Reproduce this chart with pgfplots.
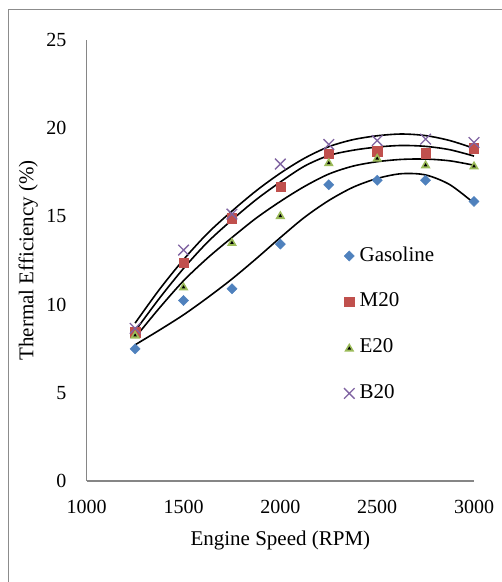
\documentclass[border=0pt]{standalone}
\usepackage{fontspec}
\setmainfont{Liberation Serif}
\usepackage{pgfplots}
\pgfplotsset{compat=1.18}
\definecolor{gasblue}{HTML}{4F81BD}
\definecolor{m20red}{HTML}{C0504D}
\definecolor{e20green}{HTML}{9BBB59}
\definecolor{b20purple}{HTML}{8064A2}
\definecolor{axisgray}{HTML}{868686}
\definecolor{framegray}{HTML}{8C8C8C}
\newcommand\fs{\fontsize{20bp}{24bp}\selectfont}
\newcommand\fl{\fontsize{21bp}{25bp}\selectfont}
\pgfdeclareplotmark{etri}{%
  \pgfsetfillcolor{e20green}%
  \pgfpathmoveto{\pgfqpoint{0bp}{4.6bp}}%
  \pgfpathlineto{\pgfqpoint{-5bp}{-4bp}}%
  \pgfpathlineto{\pgfqpoint{5bp}{-4bp}}%
  \pgfpathclose\pgfusepath{fill}%
  \pgfsetfillcolor{black}%
  \pgfpathmoveto{\pgfqpoint{0bp}{1.2bp}}%
  \pgfpathlineto{\pgfqpoint{-1.8bp}{-1.9bp}}%
  \pgfpathlineto{\pgfqpoint{1.8bp}{-1.9bp}}%
  \pgfpathclose\pgfusepath{fill}%
}
\begin{document}
\begin{tikzpicture}
\path[use as bounding box] (0bp,0bp) rectangle (502bp,582bp);
\draw[framegray, line width=1bp] (8bp,0bp) -- (8bp,572bp) -- (502bp,572bp);
\begin{axis}[
  at={(86.7bp,101bp)}, anchor=south west,
  scale only axis, width=387.3bp, height=441bp,
  xmin=1000, xmax=3000, ymin=0, ymax=25,
  xtick={1000,1500,2000,2500,3000}, ytick={0,5,10,15,20,25},
  axis x line*=bottom, axis y line*=left,
  axis line style={-, draw=axisgray, line width=1.2bp},
  major tick length=0pt,
  tick label style={font=\fs},
  xticklabel style={anchor=center, yshift=-26bp, inner sep=0pt},
  yticklabel style={anchor=east, xshift=-20bp, inner sep=0pt},
  /pgf/number format/assume math mode=true,
  /pgf/number format/1000 sep={},
  xlabel={Engine Speed (RPM)}, ylabel={Thermal Efficiency (\%)},
  xlabel style={at={(axis description cs:0.5,-0.136)}, anchor=center, font=\fl},
  ylabel style={at={(axis description cs:-0.1508,0.5)}, anchor=center, font=\fl},
  legend image code/.code={\draw[#1, only marks] plot coordinates {(0bp,0bp)};},
  legend cell align=left,
  legend style={draw=none, fill=none, font=\fl, inner sep=0pt, outer sep=0pt,
    at={(axis description cs:0.6643,0.5306)}, anchor=north west,
    nodes={inner sep=0pt, text height=14bp, text depth=4bp},
    row sep=27.8bp,
    /tikz/every odd column/.append style={column sep=5bp}},
]
\addplot[only marks, mark=square*, mark size=3.6bp, mark options={rotate=45, fill=gasblue, draw=gasblue}]
  coordinates {(1250,7.49)(1500,10.23)(1750,10.9)(2000,13.43)(2250,16.79)(2500,17.05)(2750,17.05)(3000,15.85)};
\addlegendentry{Gasoline}
\addplot[only marks, mark=square*, mark size=4.6bp, mark options={fill=m20red, draw=m20red}]
  coordinates {(1250,8.44)(1500,12.37)(1750,14.9)(2000,16.67)(2250,18.56)(2500,18.7)(2750,18.58)(3000,18.87)};
\addlegendentry{M20}
\addplot[only marks, mark=etri]
  coordinates {(1250,8.3)(1500,11.03)(1750,13.55)(2000,15.07)(2250,18.07)(2500,18.33)(2750,17.95)(3000,17.89)};
\addlegendentry{E20}
\addplot[only marks, mark=x, mark size=7.5bp, mark options={draw=b20purple, line width=1.3bp}]
  coordinates {(1250,8.65)(1500,13.09)(1750,15.13)(2000,17.97)(2250,19.08)(2500,19.3)(2750,19.38)(3000,19.19)};
\addlegendentry{B20}
% trend lines
\addplot[black, line width=1.6bp, smooth, no marks, forget plot] coordinates {
(1250,7.72)(1375,8.55)(1500,9.42)(1625,10.4)(1750,11.45)(1875,12.6)(2000,13.8)(2125,14.95)(2250,15.9)(2375,16.65)(2500,17.15)(2625,17.42)(2750,17.35)(2875,16.8)(3000,15.75)};
\addplot[black, line width=1.6bp, smooth, no marks, forget plot] coordinates {
(1250,8.5)(1375,10.35)(1500,12.05)(1625,13.55)(1750,14.8)(1875,15.95)(2000,16.95)(2125,17.85)(2250,18.45)(2375,18.75)(2500,18.93)(2625,19.02)(2750,18.97)(2875,18.78)(3000,18.42)};
\addplot[black, line width=1.6bp, smooth, no marks, forget plot] coordinates {
(1250,8.13)(1375,9.8)(1500,11.35)(1625,12.65)(1750,13.8)(1875,14.9)(2000,15.85)(2125,16.7)(2250,17.4)(2375,17.85)(2500,18.1)(2625,18.23)(2750,18.25)(2875,18.15)(3000,17.9)};
\addplot[black, line width=1.6bp, smooth, no marks, forget plot] coordinates {
(1250,8.95)(1375,10.85)(1500,12.55)(1625,14.05)(1750,15.3)(1875,16.45)(2000,17.45)(2125,18.3)(2250,18.95)(2375,19.35)(2500,19.57)(2625,19.67)(2750,19.58)(2875,19.3)(3000,18.86)};
\end{axis}
\end{tikzpicture}
\end{document}
